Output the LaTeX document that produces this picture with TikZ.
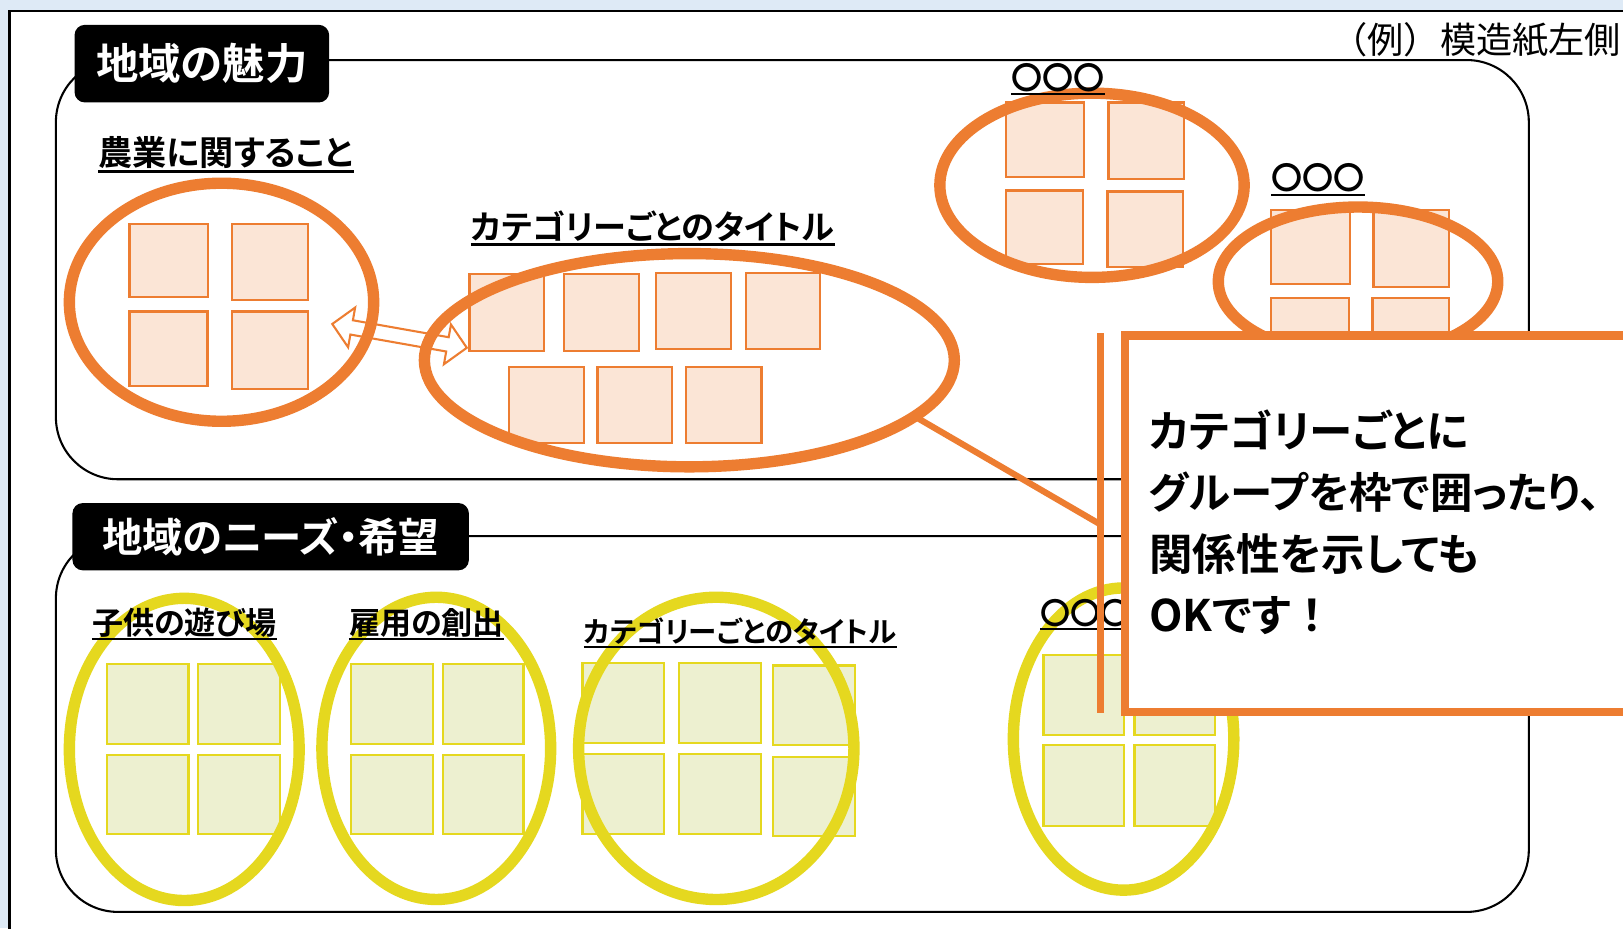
\documentclass[tikz,border=0pt]{standalone}
\usepackage{fontspec}
\setmainfont{Noto Sans CJK JP}
\newfontfamily\jpb{Noto Sans CJK JP Bold}[RawFeature=+palt]
\newfontfamily\jpbf{Noto Sans CJK JP Bold}
\usetikzlibrary{shapes.geometric}
\definecolor{bgblue}{HTML}{DEEAF6}
\definecolor{orng}{HTML}{ED7D31}
\definecolor{orfill}{HTML}{FBE5D6}
\definecolor{ylw}{HTML}{E5D81F}
\definecolor{ylfill}{HTML}{EDF0D0}
\begin{document}
\begin{tikzpicture}[x=1pt,y=-1pt,
  box/.style={draw=black, line width=2, rounded corners=60},
  lab/.style={fill=black, rounded corners=10, text=white, inner sep=0, outer sep=0},
  osq/.style={draw=orng, fill=orfill, line width=2.2},
  ysq/.style={draw=ylw, fill=ylfill, line width=2.2},
  oell/.style={ellipse, draw=orng, line width=11, inner sep=0, outer sep=0},
  yell/.style={ellipse, draw=ylw, line width=11, inner sep=0, outer sep=0},
  ttl/.style={anchor=base west, inner sep=0, font=\jpb\fontsize{33}{36}\selectfont},
  sttl/.style={anchor=base west, inner sep=0, font=\jpb\fontsize{30}{32}\selectfont},
  circttl/.style={anchor=base west, inner sep=0, font=\jpbf\fontsize{30}{32}\selectfont},
  uline/.style={line width=2.5},
  ctx/.style={anchor=base west, inner sep=0, font=\jpb\fontsize{42}{48}\selectfont},
  arrowst/.style={draw=orng, fill=white, line width=2, line join=miter},
  pointer/.style={draw=orng, line width=6}
]
\useasboundingbox (0,0) rectangle (1568,897);
\clip (0,0) rectangle (1568,897);
% background and sheet
\fill[bgblue] (0,0) rectangle (1568,897);
\fill[white] (9.5,10.5) rectangle (1600,930);
\draw[line width=2.6] (9.5,930) -- (9.5,10.5) -- (1600,10.5);
\node[anchor=base west, inner sep=0, font=\fontsize{35}{40}\selectfont] (note) at (1286,51.5) {（例）模造紙左側};

% section boxes
\draw[box] (54,58) rectangle (1477,463);
\draw[box] (54,518) rectangle (1477,881);
\node[lab, minimum width=246, minimum height=75, font=\jpb\fontsize{41}{45}\selectfont] (lab1) at (195,61.5) {地域の魅力};
\node[lab, minimum width=383, minimum height=65, font=\jpb\fontsize{39}{43}\selectfont] (lab2) at (261.5,518.5) {地域のニーズ・希望};

% double arrow between groups
\begin{scope}[shift={(386,324.5)}, rotate=-10.03]
\draw[arrowst] (-66,0) -- (-47,19.5) -- (-47,7) -- (47,7) -- (47,19.5) -- (66,0) -- (47,-19.5) -- (47,-7) -- (-47,-7) -- (-47,-19.5) -- cycle;
\end{scope}

% orange squares
\draw[osq] (125,216.5) rectangle (201,287);
\draw[osq] (224,216.5) rectangle (297.5,290);
\draw[osq] (125,301) rectangle (200.5,373);
\draw[osq] (224,301) rectangle (297.5,376);

\draw[osq] (453.7,265) rectangle (525.6,339);
\draw[osq] (545,265) rectangle (617,339);
\draw[osq] (634,263.5) rectangle (706,337);
\draw[osq] (720.5,263.5) rectangle (792.4,337);
\draw[osq] (492,354.3) rectangle (564.4,428.3);
\draw[osq] (577.3,354.3) rectangle (649.3,428.3);
\draw[osq] (662.5,354.3) rectangle (735.7,428.3);

\draw[osq] (972,99) rectangle (1047,170.7);
\draw[osq] (1071,99) rectangle (1144,173);
\draw[osq] (972,184) rectangle (1046,255);
\draw[osq] (1070,185) rectangle (1143,258);

\draw[osq] (1228,203) rectangle (1304,274.5);
\draw[osq] (1327,203) rectangle (1400,277);
\draw[osq] (1228,287.6) rectangle (1303,360);
\draw[osq] (1326,287.6) rectangle (1400,360);

% yellow squares
\draw[ysq] (103.6,641.6) rectangle (182,719);
\draw[ysq] (191.5,641.6) rectangle (270.6,719);
\draw[ysq] (103.6,729.5) rectangle (182,806);
\draw[ysq] (191.5,729.5) rectangle (270.6,806);

\draw[ysq] (339,641.6) rectangle (418,719);
\draw[ysq] (428,641.6) rectangle (505.8,719);
\draw[ysq] (339,729.5) rectangle (418,806);
\draw[ysq] (428,729.5) rectangle (505.8,806);

\draw[ysq] (562.7,640.8) rectangle (641.6,718);
\draw[ysq] (656,640.8) rectangle (735,718);
\draw[ysq] (747,643) rectangle (825.8,720);
\draw[ysq] (562.7,728.6) rectangle (641.6,805.8);
\draw[ysq] (656,728.6) rectangle (735,805.8);
\draw[ysq] (747,731) rectangle (825.8,807.7);

\draw[ysq] (1008,633) rectangle (1086,710);
\draw[ysq] (1096,633) rectangle (1174,710);
\draw[ysq] (1008,720) rectangle (1086,797.8);
\draw[ysq] (1096,720) rectangle (1174,797.8);

% group ellipses
\node[oell, minimum width=294, minimum height=230] (e1) at (214,292) {};
\node[oell, minimum width=512, minimum height=206] (e2) at (666,348) {};
\node[oell, minimum width=294, minimum height=178] (e3) at (1055,179) {};
\node[oell, minimum width=270, minimum height=144] (e4) at (1312,272) {};

\node[yell, minimum width=222, minimum height=292] (y1) at (178,724) {};
\node[yell, minimum width=221, minimum height=292] (y2) at (421.5,723) {};
\node[yell, minimum width=266, minimum height=292] (y3) at (692,723) {};
\node[yell, minimum width=213, minimum height=292] (y4) at (1085.5,714) {};

% titles
\node[ttl] (t1) at (95,160) {農業に関すること};
\draw[uline] ([yshift=-5.5pt]t1.base west) -- ([yshift=-5.5pt]t1.base east);
\node[ttl, font=\jpb\fontsize{32}{36}\selectfont] (t2) at (455,231) {カテゴリーごとのタイトル};
\draw[uline] ([yshift=-5pt]t2.base west) -- ([yshift=-5pt]t2.base east);
\node[circttl] (t3) at (977,86) {〇〇〇};
\draw[line width=2] ([yshift=-5pt]t3.base west) -- ([yshift=-5pt]t3.base east);
\node[circttl] (t4) at (1228,183) {〇〇〇};
\draw[line width=2] ([yshift=-5pt]t4.base west) -- ([yshift=-5pt]t4.base east);

\node[sttl] (s1) at (88.7,613) {子供の遊び場};
\draw[line width=2] ([yshift=-4.5pt]s1.base west) -- ([yshift=-4.5pt]s1.base east);
\node[sttl] (s2) at (337,613) {雇用の創出};
\draw[line width=2] ([yshift=-4.5pt]s2.base west) -- ([yshift=-4.5pt]s2.base east);
\node[sttl, font=\jpb\fontsize{27.5}{32}\selectfont] (s3) at (564,621) {カテゴリーごとのタイトル};
\draw[line width=2] ([yshift=-4.5pt]s3.base west) -- ([yshift=-4.5pt]s3.base east);
\node[circttl, font=\jpbf\fontsize{29}{32}\selectfont] (s4) at (1005,603) {〇〇〇};
\draw[line width=2] ([yshift=-4.5pt]s4.base west) -- ([yshift=-4.5pt]s4.base east);

% callout
\coordinate (kink) at (1062,506);
\coordinate (bartop) at (1063,322);
\coordinate (barbot) at (1063,689);
\draw[pointer, line cap=butt] (e2.-14.5) -- (kink);
\draw[draw=orng, line width=7] (bartop) -- (barbot);
\node[draw=orng, fill=white, line width=8, inner sep=0, outer sep=0, anchor=north west, minimum width=620, minimum height=364] (call) at (1087,324) {};
\node[ctx] (ct1) at (1110,432) {カテゴリーごとに};
\node[ctx, font=\jpb\fontsize{41}{48}\selectfont] (ct2) at (1110,491.5) {グループを枠で囲ったり、};
\node[ctx] (ct3) at (1110,551) {関係性を示しても};
\node[ctx] (ct4) at (1110,610) {OKです{\jpbf ！}};
\end{tikzpicture}
\end{document}
